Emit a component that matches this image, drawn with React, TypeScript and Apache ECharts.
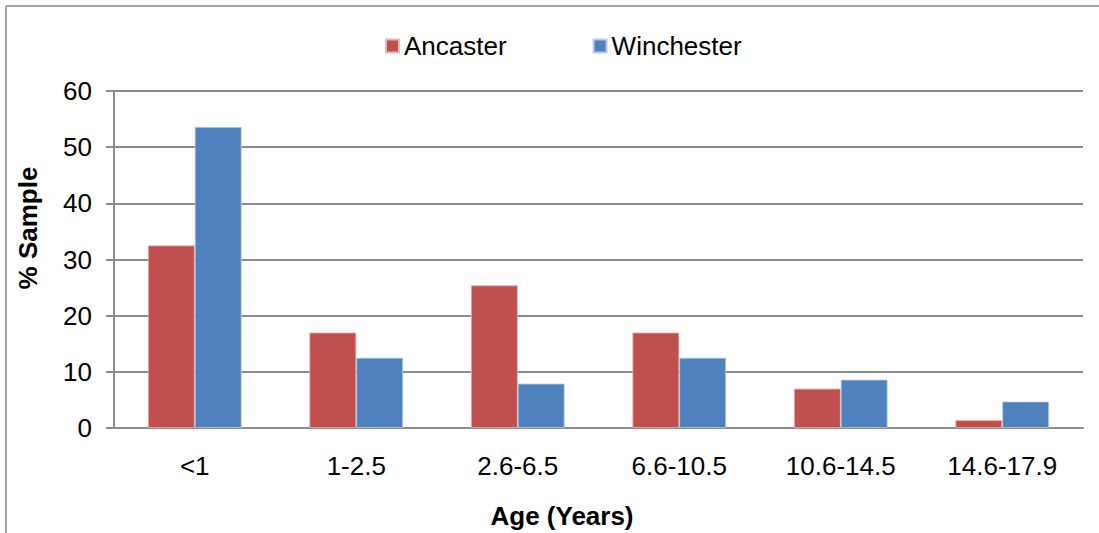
import React, { useEffect, useRef } from "react";
import * as echarts from "echarts";

const categories = ["<1", "1-2.5", "2.6-6.5", "6.6-10.5", "10.6-14.5", "14.6-17.9"];
const ancaster = [32.5, 17.0, 25.4, 17.0, 7.0, 1.4];
const winchester = [53.6, 12.5, 7.9, 12.5, 8.6, 4.7];
const seriesNames = ["Ancaster", "Winchester"];
const yTicks = { min: 0, max: 60, interval: 10 };
const yTitle = "% Sample";
const xTitle = "Age (Years)";

const FONT = "'Liberation Sans', Arial, sans-serif";

export default function App() {
  const ref = useRef<HTMLDivElement>(null);
  useEffect(() => {
    if (!ref.current) return;
    const chart = echarts.init(ref.current, undefined, { renderer: "svg" });
    chart.setOption({
      animation: false,
      backgroundColor: "#ffffff",
      textStyle: { fontFamily: FONT },
      legend: {
        top: 28,
        left: 380,
        itemWidth: 13,
        itemHeight: 13,
        itemGap: 86,
        icon: "rect",
        textStyle: { fontSize: 26, color: "#000", fontFamily: FONT, padding: [0, 0, 0, 0] },
        data: seriesNames,
      },
      grid: { left: 114, right: 16, top: 91, bottom: 105, containLabel: false },
      xAxis: {
        type: "category",
        data: categories,
        axisLine: { show: true, lineStyle: { color: "#8c8c8c", width: 2 } },
        axisTick: { show: false },
        axisLabel: { fontSize: 26, color: "#000", margin: 25, fontFamily: FONT },
        splitLine: { show: false },
      },
      yAxis: {
        type: "value",
        min: yTicks.min,
        max: yTicks.max,
        interval: yTicks.interval,
        axisLine: { show: true, lineStyle: { color: "#8c8c8c", width: 2 } },
        axisTick: { show: true, length: 8, lineStyle: { color: "#8c8c8c", width: 2 } },
        axisLabel: { fontSize: 26, color: "#000", margin: 22, fontFamily: FONT },
        splitLine: { show: true, lineStyle: { color: "#8c8c8c", width: 2 } },
      },
      series: [
        {
          name: seriesNames[0],
          type: "bar",
          data: ancaster,
          barGap: "0%",
          barCategoryGap: "42%",
          itemStyle: { color: "#C0504D", borderColor: "#e6b8b7", borderWidth: 0.8 },
        },
        {
          name: seriesNames[1],
          type: "bar",
          data: winchester,
          barGap: "0%",
          barCategoryGap: "42%",
          itemStyle: { color: "#4F81BD", borderColor: "#b8cce4", borderWidth: 0.8 },
        },
      ],
      graphic: [
        {
          type: "line",
          shape: { x1: 6, y1: 6, x2: 1099, y2: 6 },
          style: { stroke: "#a6a6a6", lineWidth: 2 },
        },
        {
          type: "line",
          shape: { x1: 6, y1: 6, x2: 6, y2: 533 },
          style: { stroke: "#a6a6a6", lineWidth: 2 },
        },
        {
          type: "text",
          x: 28,
          y: 228,
          rotation: Math.PI / 2,
          style: {
            text: yTitle,
            fontSize: 26,
            fontWeight: "bold",
            fontFamily: FONT,
            fill: "#000",
            textAlign: "center",
            textVerticalAlign: "middle",
          },
        },
        {
          type: "text",
          x: 562,
          y: 516,
          style: {
            text: xTitle,
            fontSize: 26,
            fontWeight: "bold",
            fontFamily: FONT,
            fill: "#000",
            textAlign: "center",
            textVerticalAlign: "middle",
          },
        },
      ],
    });
    return () => chart.dispose();
  }, []);
  return <div ref={ref} style={{ width: 1099, height: 533, position: "absolute", left: 0, top: 0 }} />;
}
